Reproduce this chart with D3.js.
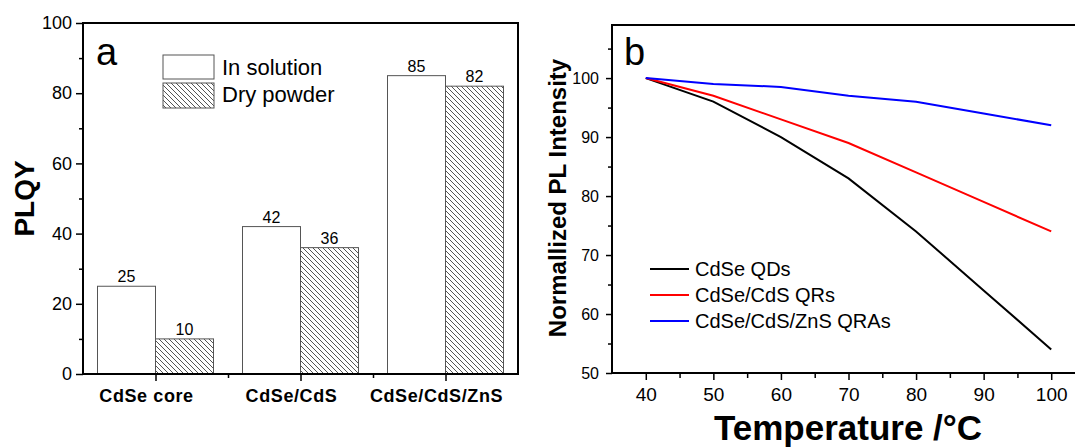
<!DOCTYPE html>
<html>
<head>
<meta charset="utf-8">
<style>
  body { margin: 0; background: #fff; }
  svg { display: block; font-family: "Liberation Sans", Arial, sans-serif; }
  .tick line { stroke: #000; stroke-width: 1.5; }
</style>
</head>
<body>
<svg width="1075" height="448"></svg>
<script src="https://d3js.org/d3.v7.min.js"></script>
<script>

  // panel a data
  var categories = ["CdSe core", "CdSe/CdS", "CdSe/CdS/ZnS"];
  var solution = [25, 42, 85];
  var powder = [10, 36, 82];
  var plqyTicks = [0, 20, 40, 60, 80, 100];

  // panel b data
  var temps = [40, 50, 60, 70, 80, 90, 100];
  var cdseQDs = [100, 96, 90, 83, 74, 64, 54];
  var cdseCdsQRs = [100, 97, 93, 89, 84, 79, 74];
  var cdseCdsZnsQRAs = [100, 99, 98.5, 97, 96, 94, 92];
  var seriesNames = ["CdSe QDs", "CdSe/CdS QRs", "CdSe/CdS/ZnS QRAs"];
  var seriesColors = ["#000000", "#ff0000", "#0000ff"];

  var svg = d3.select("svg");

  // hatch pattern for dry powder
  svg.append("defs").append("pattern")
    .attr("id", "hatch")
    .attr("patternUnits", "userSpaceOnUse")
    .attr("width", 5).attr("height", 5)
    .append("path")
    .attr("d", "M0,0L5,5M-1,4L1,6M4,-1L6,1")
    .attr("stroke", "#555").attr("stroke-width", 1);

  // ---------- panel a ----------
  var ax = {left: 83, right: 518, top: 23, bottom: 374};

  var x0 = d3.scaleBand().domain(categories).range([ax.left, ax.right]);
  var bw = x0.bandwidth() * 0.4;
  var x1 = d3.scaleBand().domain(["solution", "powder"]).range([-bw, bw]);
  var ya = d3.scaleLinear().domain([0, 100]).range([ax.bottom, ax.top]);

  var ga = svg.append("g");

  var bars = [];
  categories.forEach(function (c, i) {
    bars.push({cat: c, key: "solution", v: solution[i]});
    bars.push({cat: c, key: "powder", v: powder[i]});
  });

  ga.selectAll("rect.bar").data(bars).enter().append("rect")
    .attr("class", "bar")
    .attr("x", function (d) { return x0(d.cat) + x0.bandwidth() / 2 + x1(d.key); })
    .attr("y", function (d) { return ya(d.v); })
    .attr("width", x1.bandwidth())
    .attr("height", function (d) { return ya(0) - ya(d.v); })
    .attr("fill", function (d) { return d.key == "solution" ? "#fff" : "url(#hatch)"; })
    .attr("stroke", "#555").attr("stroke-width", 1);

  ga.selectAll("text.val").data(bars).enter().append("text")
    .attr("class", "val")
    .attr("x", function (d) { return x0(d.cat) + x0.bandwidth() / 2 + x1(d.key) + x1.bandwidth() / 2; })
    .attr("y", function (d) { return ya(d.v) - 4; })
    .attr("text-anchor", "middle")
    .attr("font-size", 16)
    .text(function (d) { return d.v; });

  // y axis
  ga.append("g").attr("transform", "translate(" + ax.left + ",0)")
    .call(d3.axisLeft(ya).tickValues(plqyTicks).tickSize(7).tickPadding(4))
    .call(function (g) { g.select(".domain").remove(); })
    .selectAll("text").attr("font-size", 18).attr("font-family", null);
  ga.append("g").attr("transform", "translate(" + ax.left + ",0)")
    .call(d3.axisLeft(ya).tickValues([10, 30, 50, 70, 90]).tickSize(4).tickFormat(""))
    .call(function (g) { g.select(".domain").remove(); });

  // x axis: major ticks at group centres, minor at group boundaries
  var xa = d3.scaleLinear().domain([ax.left, ax.right]).range([ax.left, ax.right]);
  ga.append("g").attr("transform", "translate(0," + ax.bottom + ")")
    .call(d3.axisBottom(xa).tickValues(categories.map(function (c) { return x0(c) + x0.bandwidth() / 2; })).tickSize(7).tickFormat(""))
    .call(function (g) { g.select(".domain").remove(); });
  ga.append("g").attr("transform", "translate(0," + ax.bottom + ")")
    .call(d3.axisBottom(xa).tickValues(categories.slice(1).map(function (c) { return x0(c); })).tickSize(4).tickFormat(""))
    .call(function (g) { g.select(".domain").remove(); });

  ga.selectAll("text.cat").data(categories).enter().append("text")
    .attr("class", "cat")
    .attr("x", function (c) { return x0(c) + x0.bandwidth() / 2 - 9; })
    .attr("y", 402)
    .attr("text-anchor", "middle")
    .attr("font-size", 18).attr("font-weight", "bold")
    .attr("letter-spacing", 0.6)
    .text(function (c) { return c; });

  ga.append("rect")
    .attr("x", ax.left).attr("y", ax.top)
    .attr("width", ax.right - ax.left).attr("height", ax.bottom - ax.top)
    .attr("fill", "none").attr("stroke", "#000").attr("stroke-width", 2);

  ga.append("text")
    .attr("transform", "translate(34," + ((ax.top + ax.bottom) / 2) + ") rotate(-90)")
    .attr("text-anchor", "middle")
    .attr("font-size", 28).attr("font-weight", "bold")
    .text("PLQY");

  ga.append("text").attr("x", 96).attr("y", 65).attr("font-size", 38).text("a");

  // legend a
  var legA = ga.append("g").attr("transform", "translate(163,55)");
  legA.append("rect").attr("width", 51).attr("height", 24)
    .attr("fill", "#fff").attr("stroke", "#555");
  legA.append("rect").attr("y", 28).attr("width", 51).attr("height", 25)
    .attr("fill", "url(#hatch)").attr("stroke", "#555");
  legA.append("text").attr("x", 59).attr("y", 20).attr("font-size", 22).text("In solution");
  legA.append("text").attr("x", 59).attr("y", 47).attr("font-size", 22).text("Dry powder");

  // ---------- panel b ----------
  var bx = {left: 612, right: 1085, top: 25, bottom: 373};
  var xb = d3.scaleLinear().domain([35, 105]).range([bx.left, bx.right]);
  var yb = d3.scaleLinear().domain([50, 109]).range([bx.bottom, bx.top]);

  var gb = svg.append("g");

  gb.append("g").attr("transform", "translate(" + bx.left + ",0)")
    .call(d3.axisLeft(yb).tickValues([50, 60, 70, 80, 90, 100]).tickSize(6).tickPadding(7))
    .call(function (g) { g.select(".domain").remove(); })
    .selectAll("text").attr("font-size", 16).attr("font-family", null);
  gb.append("g").attr("transform", "translate(" + bx.left + ",0)")
    .call(d3.axisLeft(yb).tickValues([55, 65, 75, 85, 95, 105]).tickSize(4).tickFormat(""))
    .call(function (g) { g.select(".domain").remove(); });

  gb.append("g").attr("transform", "translate(0," + bx.bottom + ")")
    .call(d3.axisBottom(xb).tickValues(temps).tickSize(7).tickPadding(8))
    .call(function (g) { g.select(".domain").remove(); })
    .selectAll("text").attr("font-size", 19).attr("font-family", null);
  gb.append("g").attr("transform", "translate(0," + bx.bottom + ")")
    .call(d3.axisBottom(xb).tickValues([45, 55, 65, 75, 85, 95]).tickSize(5).tickFormat(""))
    .call(function (g) { g.select(".domain").remove(); });

  var line = d3.line()
    .x(function (d) { return xb(d[0]); })
    .y(function (d) { return yb(d[1]); });

  [cdseQDs, cdseCdsQRs, cdseCdsZnsQRAs].forEach(function (s, i) {
    gb.append("path")
      .datum(temps.map(function (t, j) { return [t, s[j]]; }))
      .attr("fill", "none")
      .attr("stroke", seriesColors[i])
      .attr("stroke-width", 2)
      .attr("d", line);
  });

  gb.append("rect")
    .attr("x", bx.left).attr("y", bx.top)
    .attr("width", bx.right - bx.left).attr("height", bx.bottom - bx.top)
    .attr("fill", "none").attr("stroke", "#000").attr("stroke-width", 2);

  gb.append("text")
    .attr("transform", "translate(566,198) rotate(-90)")
    .attr("text-anchor", "middle")
    .attr("font-size", 24).attr("font-weight", "bold")
    .text("Normallized PL Intensity");

  gb.append("text")
    .attr("x", 848).attr("y", 440)
    .attr("text-anchor", "middle")
    .attr("font-size", 35).attr("font-weight", "bold")
    .text("Temperature /°C");

  gb.append("text").attr("x", 624).attr("y", 65).attr("font-size", 38).text("b");

  // legend b
  var legB = gb.append("g").attr("transform", "translate(650,269)");
  seriesNames.forEach(function (n, i) {
    var row = legB.append("g").attr("transform", "translate(0," + (i * 26) + ")");
    row.append("line").attr("x1", 0).attr("x2", 39)
      .attr("stroke", seriesColors[i]).attr("stroke-width", 2);
    row.append("text").attr("x", 45).attr("y", 7).attr("font-size", 20).text(n);
  });

</script>
</body>
</html>
